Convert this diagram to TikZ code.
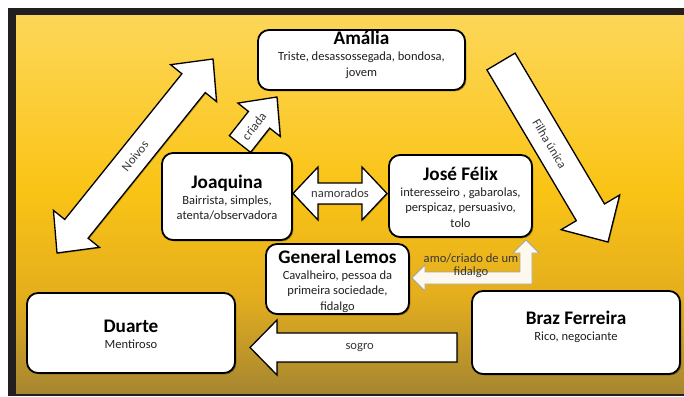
\documentclass[tikz,border=0pt]{standalone}
\usepackage{fontspec}
\setmainfont{Carlito}
\usetikzlibrary{calc,shadows}
\definecolor{bgTop}{RGB}{253,214,88}
\definecolor{bgMid}{RGB}{250,196,22}
\definecolor{bgLow}{RGB}{228,174,30}
\definecolor{bgBot}{RGB}{166,134,48}
\definecolor{frameblk}{RGB}{35,31,32}
\definecolor{lblgray}{RGB}{55,55,55}
\pgfdeclareverticalshading{bgshade}{100bp}{color(0bp)=(bgBot); color(25bp)=(bgBot); color(38bp)=(bgLow); color(52bp)=(bgMid); color(75bp)=(bgTop); color(100bp)=(bgTop)}
\newcommand\bxtitle[1]{{\fontsize{19.2}{15.5}\selectfont\bfseries\color{black}#1}}
\newcommand\bxtext[2]{\begin{tabular}[t]{@{}c@{}}\bxtitle{#1}\\[0.5pt]#2\end{tabular}}
% single block arrow: tail, tip, shaft half width, head half width, head length
\newcommand\blockarrow[5]{%
  \draw[arrowbox] ($(#1)!#3!90:(#2)$)
    -- ($($(#2)!#5!(#1)$)!#3!90:(#2)$)
    -- ($($(#2)!#5!(#1)$)!#4!90:(#2)$)
    -- (#2)
    -- ($($(#2)!#5!(#1)$)!#4!-90:(#2)$)
    -- ($($(#2)!#5!(#1)$)!#3!-90:(#2)$)
    -- ($(#1)!#3!-90:(#2)$) -- cycle;}
% double block arrow: tip A, tip B, shaft half width, head half width, head length
\newcommand\dblockarrow[5]{%
  \draw[arrowbox] (#1)
    -- ($($(#1)!#5!(#2)$)!#4!90:(#2)$)
    -- ($($(#1)!#5!(#2)$)!#3!90:(#2)$)
    -- ($($(#2)!#5!(#1)$)!#3!90:(#2)$)
    -- ($($(#2)!#5!(#1)$)!#4!90:(#2)$)
    -- (#2)
    -- ($($(#2)!#5!(#1)$)!#4!-90:(#2)$)
    -- ($($(#2)!#5!(#1)$)!#3!-90:(#2)$)
    -- ($($(#1)!#5!(#2)$)!#3!-90:(#2)$)
    -- ($($(#1)!#5!(#2)$)!#4!-90:(#2)$) -- cycle;}
\tikzset{
  charbox/.style={draw=black, line width=1.8pt, fill=white, rounded corners=11pt,
    inner sep=0pt, outer sep=0pt,
    drop shadow={shadow xshift=1.3pt, shadow yshift=-1.3pt, opacity=0.35, fill=black}},
  boxtxt/.style={anchor=base, inner sep=0pt, text=black!88,
    font=\fontsize{12.5}{15.5}\selectfont},
  arrowbox/.style={draw=black, line width=1.3pt, fill=white, line join=miter,
    drop shadow={shadow xshift=1pt, shadow yshift=-1pt, opacity=0.25, fill=black}},
  lbl/.style={inner sep=0pt, text=lblgray, font=\fontsize{12.6}{13}\selectfont},
}
\begin{document}
\begin{tikzpicture}[x=1pt, y=-1pt]
\useasboundingbox (0,0) rectangle (684,396);
% frame and background
\fill[white] (0,0) rectangle (684,396);
\fill[frameblk] (8,8) rectangle (684,396);
\shade[shading=bgshade] (16,16) rectangle (684,393);

% character boxes
\node[charbox, minimum width=207pt, minimum height=60pt] (amalia) at (361.5,60) {};
\node[charbox, minimum width=130pt, minimum height=87pt] (joaquina) at (227,196.5) {};
\node[charbox, minimum width=143pt, minimum height=82pt] (jose) at (460.5,196) {};
\node[charbox, minimum width=143pt, minimum height=70pt] (lemos) at (337.5,279) {};
\node[charbox, minimum width=208pt, minimum height=80pt] (duarte) at (131,333) {};
\node[charbox, minimum width=208pt, minimum height=83pt] (braz) at (576,332.5) {};

% connector end points
\coordinate (noivosA) at (57,253);
\coordinate (noivosB) at (213,59);
\coordinate (criadaA) at (240,144);
\coordinate (criadaB) at (277,97);
\coordinate (filhaA) at (501,61.5);
\coordinate (filhaB) at (608,242);
\coordinate (namA) at (293,193.5);
\coordinate (namB) at (387,193.5);
\coordinate (sogroA) at (457,347.5);
\coordinate (sogroB) at (250,347.5);
\coordinate (amoL) at (412,278);
\coordinate (amoU) at (526,240);

% block arrows
\dblockarrow{noivosA}{noivosB}{15pt}{29.5pt}{31pt}
\blockarrow{criadaA}{criadaB}{13.5pt}{27pt}{29pt}
\blockarrow{filhaA}{filhaB}{16.4pt}{34pt}{34.5pt}
\dblockarrow{namA}{namB}{10.5pt}{26.5pt}{25pt}
\blockarrow{sogroA}{sogroB}{14.5pt}{27.5pt}{27pt}
\draw[draw=black!35, line width=0.8pt, fill=white, fill opacity=0.92, line join=miter]
  (amoL) -- ++(13,-13) -- ++(0,7) -- ($(amoU|-amoL)+(-6,-6)$)
  -- ($(amoU)+(-6,13)$) -- ($(amoU)+(-13,13)$) -- (amoU) -- ($(amoU)+(13,13)$)
  -- ($(amoU)+(6,13)$) -- ($(amoU|-amoL)+(6,6)$) -- ($(amoL)+(13,6)$)
  -- ($(amoL)+(13,13)$) -- cycle;

% arrow labels
\path (noivosA) -- (noivosB) node[lbl, pos=0.5, sloped] (noivosT) {Noivos};
\path (criadaA) -- (criadaB) node[lbl, pos=0.38, sloped] (criadaT) {criada};
\path (filhaA) -- (filhaB) node[lbl, pos=0.455, sloped] (filhaT) {Filha única};
\path (namA) -- (namB) node[lbl, pos=0.5] (namT) {namorados};
\path (sogroA) -- (sogroB) node[lbl, pos=0.47] (sogroT) {sogro};
\node[lbl, align=center, anchor=base] (amoT) at (471,275) {amo/criado de um\\fidalgo};

% box texts
\node[boxtxt] (amaliaT) at (361.5,45) {\bxtext{Amália}{Triste, desassossegada, bondosa,\\jovem}};
\node[boxtxt] (joaquinaT) at (227,188) {\bxtext{Joaquina}{Bairrista, simples,\\atenta/observadora}};
\node[boxtxt] (joseT) at (460.5,180) {\bxtext{José Félix}{interesseiro , gabarolas,\\perspicaz, persuasivo,\\tolo}};
\node[boxtxt] (lemosT) at (337.5,263) {\bxtext{General Lemos}{Cavalheiro, pessoa da\\primeira sociedade,\\fidalgo}};
\node[boxtxt] (duarteT) at (131,332) {\bxtext{Duarte}{Mentiroso}};
\node[boxtxt] (brazT) at (576,324) {\bxtext{Braz Ferreira}{Rico, negociante}};
\end{tikzpicture}
\end{document}
